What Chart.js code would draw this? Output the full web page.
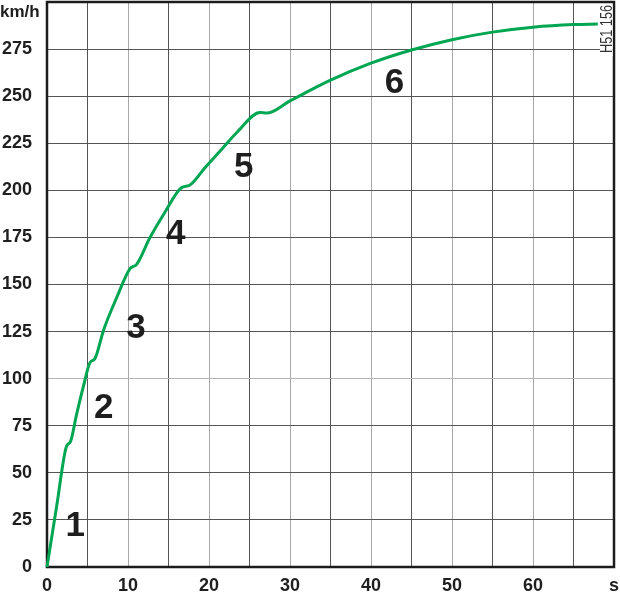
<!DOCTYPE html>
<html><head><meta charset="utf-8">
<script src="https://cdn.jsdelivr.net/npm/chart.js@4/dist/chart.umd.min.js"></script>
<style>html,body{margin:0;padding:0;background:#fff;}</style>
</head><body>
<canvas id="c" width="620" height="596"></canvas>
<script>
// Acceleration curve: time (s) vs speed (km/h)
const times  = [0, 1.2, 2.4, 2.9, 3.6, 4.5, 5.3, 5.9, 7.0, 8.6, 10.25, 11.07, 12.7, 14.5, 16.6, 17.6, 19.5, 21.6, 23.5, 26.3, 27.1, 30, 35, 40, 45, 50, 55, 60, 65, 68];
const speeds = [0, 32.5, 64, 66.6, 80, 96, 108.5, 110.5, 126, 143, 158.4, 160.7, 174.8, 188, 201.4, 202.7, 212, 222, 231, 241.3, 241, 247.5, 258.5, 267.5, 274.5, 280, 284, 286.6, 288, 288.3];
const xLabelTicks = [0, 10, 20, 30, 40, 50, 60];
const xUnit = 's';
const yUnit = 'km/h';
const gearLabels = ['1', '2', '3', '4', '5', '6'];
const gearX = [3.5, 7.0, 11.0, 15.9, 24.3, 42.9];
const gearY = [22.3, 84.6, 127, 177, 213, 257.5];
const figureCode = 'H51 156';

const points = times.map((t, i) => ({x: t, y: speeds[i]}));
const FONT = '"Liberation Sans", Arial, sans-serif';

const decor = {
  id: 'decor',
  beforeDatasetsDraw(chart) {
    const {ctx, chartArea: a} = chart;
    ctx.save();
    ctx.strokeStyle = '#1c1c1c';
    ctx.lineWidth = 2.5;
    ctx.strokeRect(a.left, a.top, a.right - a.left, a.bottom - a.top);
    ctx.restore();
  },
  afterDraw(chart) {
    const {ctx, scales} = chart;
    ctx.save();
    ctx.fillStyle = '#1e1e1e';
    ctx.font = 'bold 35px ' + FONT;
    ctx.textAlign = 'center';
    ctx.textBaseline = 'middle';
    gearLabels.forEach((g, i) => {
      ctx.fillText(g, scales.x.getPixelForValue(gearX[i]), scales.y.getPixelForValue(gearY[i]) + 1);
    });
    ctx.font = 'bold 17px ' + FONT;
    ctx.textAlign = 'left';
    ctx.fillText(yUnit, 0, 12);
    ctx.fillStyle = '#fff';
    ctx.fillRect(600, 4, 12.5, 52);
    ctx.translate(612, 29);
    ctx.rotate(-Math.PI / 2);
    ctx.font = '16px ' + FONT;
    const w = ctx.measureText(figureCode).width;
    ctx.scale(48 / w, 1);
    ctx.fillStyle = '#333';
    ctx.textAlign = 'center';
    ctx.textBaseline = 'alphabetic';
    ctx.fillText(figureCode, 0, 0);
    ctx.restore();
  }
};

new Chart(document.getElementById('c'), {
  type: 'scatter',
  data: {
    datasets: [{
      data: points,
      showLine: true,
      borderColor: '#00a651',
      borderWidth: 3,
      pointRadius: 0,
      cubicInterpolationMode: 'monotone',
      fill: false,
      clip: false
    }]
  },
  options: {
    responsive: false,
    animation: false,
    devicePixelRatio: 1,
    layout: {padding: {top: 2, right: 6, left: 0, bottom: 0}},
    plugins: {legend: {display: false}, tooltip: {enabled: false}},
    scales: {
      x: {
        type: 'linear', min: 0, max: 70,
        border: {display: false},
        grid: {
          drawTicks: false, lineWidth: 1,
          color: c => (c.tick && c.tick.value % 10 === 0) ? '#a8a8a8' : '#555'
        },
        ticks: {
          stepSize: 5, autoSkip: false, maxRotation: 0, padding: 8,
          color: '#1e1e1e', font: {family: FONT, size: 18, weight: 'bold'},
          callback: v => v === 70 ? xUnit : (xLabelTicks.includes(v) ? String(v) : '')
        },
        afterFit: s => { s.height = 29; s.paddingLeft = 0; s.paddingRight = 0; }
      },
      y: {
        type: 'linear', min: 0, max: 300,
        border: {display: false},
        grid: {
          drawTicks: false, lineWidth: 1,
          color: c => (c.tick && c.tick.value === 100) ? '#b5b5b5' : '#555'
        },
        ticks: {
          stepSize: 25, padding: 15,
          color: '#1e1e1e', font: {family: FONT, size: 18, weight: 'bold'},
          callback: v => v === 300 ? '' : String(v)
        },
        afterFit: s => { s.width = 47; s.paddingTop = 0; s.paddingBottom = 0; }
      }
    }
  },
  plugins: [decor]
});
</script>
</body></html>
